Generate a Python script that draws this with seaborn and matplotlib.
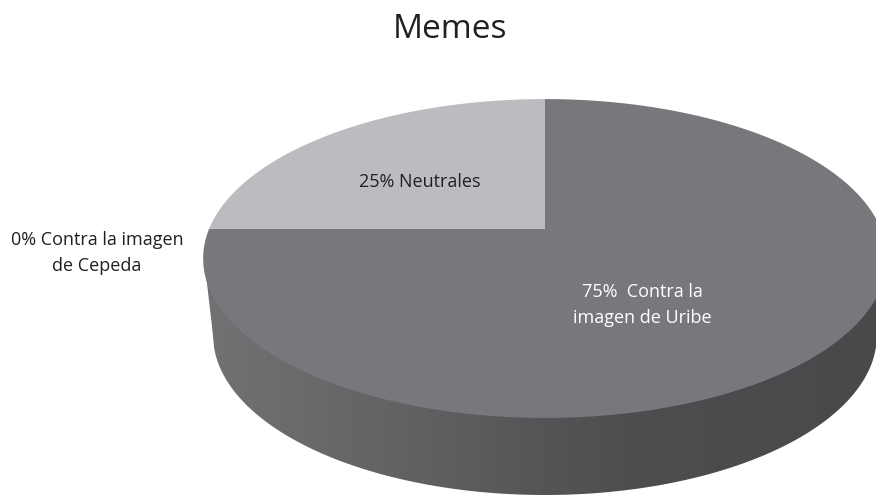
import numpy as np
import matplotlib
matplotlib.use('Agg')
import matplotlib.pyplot as plt
import seaborn as sns
from matplotlib.patches import Polygon
from matplotlib.transforms import Transform
from matplotlib.path import Path

categories = ['75%  Contra la\nimagen de Uribe', '25% Neutrales', '0% Contra la imagen\nde Cepeda']
values = [75, 25, 0]
pie_colors = ['#77787b', '#bbbcbf', '#d9dadb']
text_colors = ['white', '#231f20', '#231f20']
label_pos = [(642, 305), (420, 182), (97, 253)]

sns.set_theme(style='white')
plt.rcParams['font.family'] = ['Open Sans', 'DejaVu Sans']


# tilted pie: unit circle to pixels, with the far half foreshortened
class Tilt(Transform):
    input_dims = output_dims = 2
    has_inverse = False

    def transform_non_affine(self, xy):
        xy = np.asarray(xy)
        w = 1 + 0.185 * xy[:, 1]
        return np.column_stack([545 + 336 * xy[:, 0] / w, 229 - 154 * xy[:, 1] / w])

    def transform_path_non_affine(self, path):
        pts = [curve(np.linspace(0, 1, 16)) for curve, code in path.iter_bezier()]
        return Path(self.transform_non_affine(np.vstack(pts)))


fig = plt.figure(figsize=(8.76, 4.95), dpi=100)
ax = fig.add_axes([0, 0, 1, 1])

wedges, _ = ax.pie(values, colors=pie_colors, startangle=90, counterclock=False,
                   wedgeprops={'linewidth': 0})
ax.set_aspect('auto')
ax.axis('off')
tilt = Tilt()
for w in wedges:
    w.set_transform(tilt + ax.transData)
    w.set_zorder(3)

# side of the disc, a horizontal gradient clipped to the lower outline
xs = np.linspace(204, 876, 400)
t = np.clip((xs - 545) / 332, -1, 1)
lower = 335 + 160 * np.sqrt(1 - t ** 2)
left = xs < 213
lower[left] = 258 + (xs[left] - 204) / 9 * 77
outline = np.column_stack([np.r_[xs, 876, 204], np.r_[lower, 258, 258]])
side_cmap = sns.blend_palette(['#717274', '#69696b', '#606062', '#555557', '#4d4d4f', '#4a4b4d', '#48494b'],
                              as_cmap=True)
img = ax.imshow(np.linspace(0, 1, 256)[None, :], cmap=side_cmap, extent=(204, 876, 495, 200),
                aspect='auto', zorder=1)
ax.set_xlim(0, 876)
ax.set_ylim(495, 0)
clip = Polygon(outline, transform=ax.transData, fc='none', ec='none')
ax.add_patch(clip)
img.set_clip_path(clip)

ax.text(450, 29, 'Memes', fontsize=24, color='#231f20', ha='center', va='center', zorder=4)
for lab, pos, col in zip(categories, label_pos, text_colors):
    ax.text(pos[0], pos[1], lab, fontsize=13, color=col, ha='center', va='center',
            linespacing=1.56, zorder=4)

fig.savefig('out.png', dpi=100)
